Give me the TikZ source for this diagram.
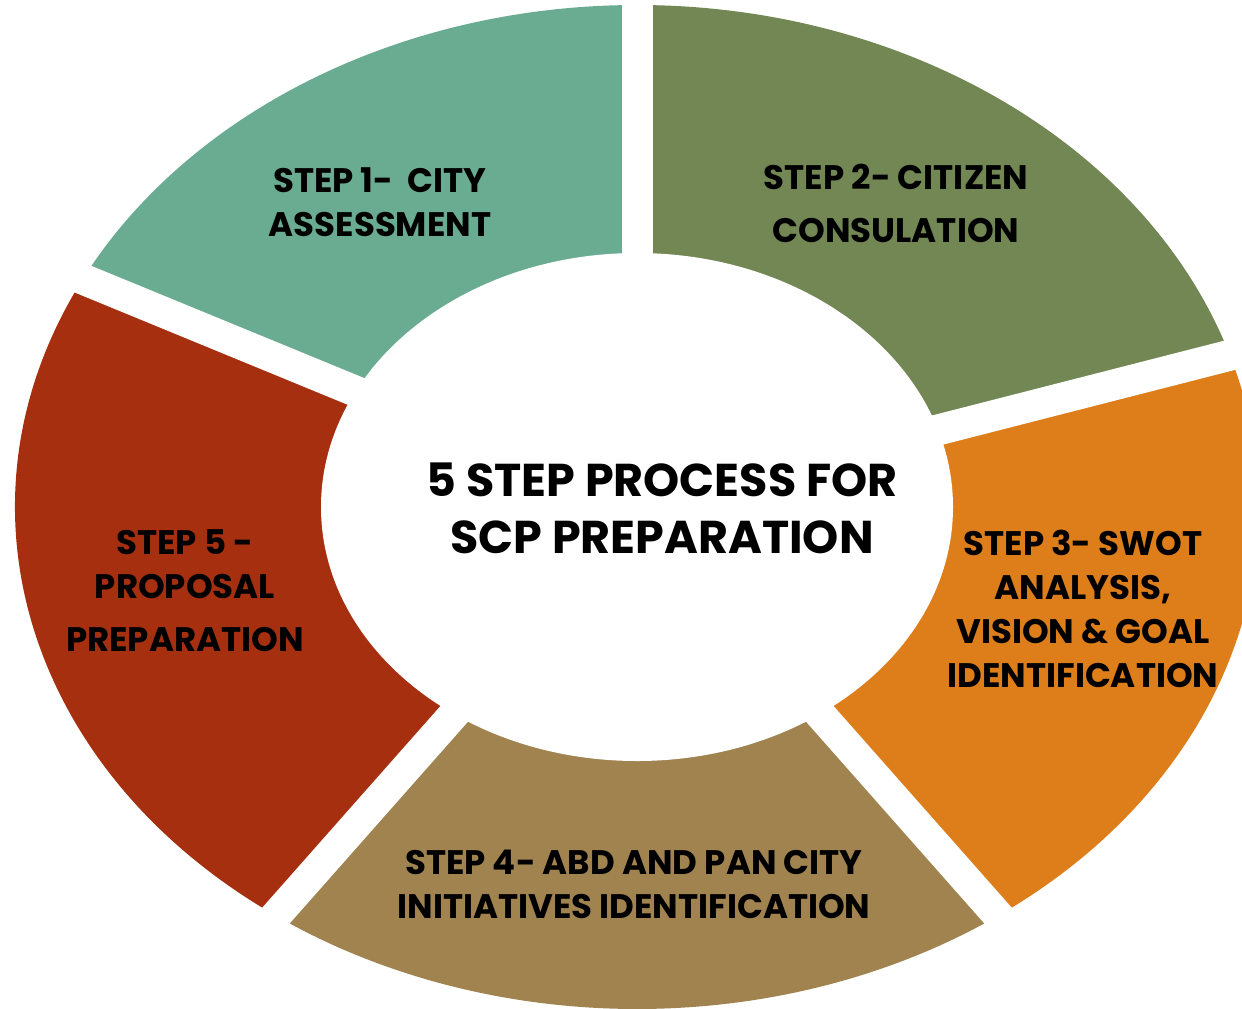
\documentclass[tikz,border=0pt]{standalone}
\usepackage{fontspec}
\setmainfont{Poppins}
\usepackage{tikz}
\usetikzlibrary{positioning}
\definecolor{stepteal}{RGB}{106,172,145}
\definecolor{stepolive}{RGB}{115,135,84}
\definecolor{steporange}{RGB}{222,126,26}
\definecolor{steptan}{RGB}{160,131,79}
\definecolor{stepred}{RGB}{165,47,15}

\begin{document}
\begin{tikzpicture}[
    x=0.5pt, y=0.5pt,
    steplabel/.style={align=center, inner sep=0pt, text=black, font=\bfseries\fontsize{17}{22}\selectfont},
    titlelabel/.style={align=center, inner sep=0pt, text=black, font=\bfseries\fontsize{23}{28.5}\selectfont},
    gapline/.style={white, line width=15.5pt}
]
\useasboundingbox (0,0) rectangle (1242,-1008);
\coordinate (c) at (637,-507);

% Ring segments
\foreach \a/\b/\col in {90/153/stepteal, 153/234.5/stepred, 234.5/305.5/steptan, 305.5/377.6/steporange, 17.6/90/stepolive}
  \fill[\col] (c) -- ([shift={(c)}]\a:622 and 502) arc[start angle=\a, end angle=\b, x radius=622, y radius=502] -- cycle;

% Gaps between segments
\foreach \a in {90, 153, 234.5, 305.5, 17.6}
  \draw[gapline] (c) -- ++(\a:700 and 565);

% Hole
\fill[white] (c) ellipse[x radius=316, y radius=254];

% Labels
\node[steplabel] (step1) at (380,-202) {STEP 1-\ \ CITY\\ASSESSMENT};
\node[steplabel] (step2) at (896,-203) {STEP 2- CITIZEN\\[4.5pt]CONSULATION};
\node[steplabel] (step3) at (1083,-609) {STEP 3- SWOT\\ANALYSIS,\\VISION \& GOAL\\IDENTIFICATION};
\node[steplabel] (step4) at (634,-884) {STEP 4- ABD AND PAN CITY\\INITIATIVES IDENTIFICATION};
\node[steplabel] (step5) at (185,-591) {STEP 5 -\\PROPOSAL\\[4.5pt]PREPARATION};

% Title
\node[titlelabel] (title) at (662,-508) {5 STEP PROCESS FOR\\SCP PREPARATION};
\end{tikzpicture}
\end{document}
